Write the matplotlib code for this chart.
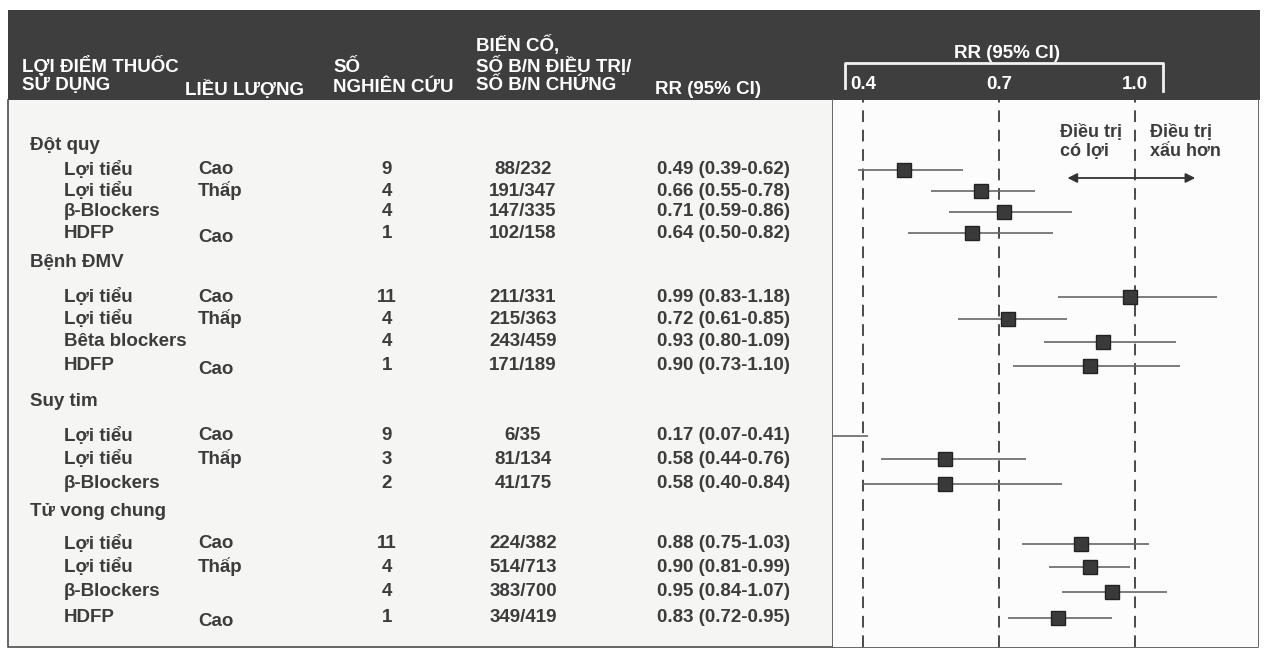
import matplotlib
matplotlib.use("Agg")
import matplotlib.pyplot as plt
from matplotlib.patches import Rectangle

plt.rcParams["font.family"] = ["Liberation Sans", "DejaVu Sans"]

# ---- data ----
groups = ["Đột quy", "Bệnh ĐMV", "Suy tim", "Tử vong chung"]
group_sizes = [4, 4, 3, 4]
drugs = ["Lợi tiểu", "Lợi tiểu", "β-Blockers", "HDFP",
         "Lợi tiểu", "Lợi tiểu", "Bêta blockers", "HDFP",
         "Lợi tiểu", "Lợi tiểu", "β-Blockers",
         "Lợi tiểu", "Lợi tiểu", "β-Blockers", "HDFP"]
doses = ["Cao", "Thấp", "", "Cao",
         "Cao", "Thấp", "", "Cao",
         "Cao", "Thấp", "",
         "Cao", "Thấp", "", "Cao"]
n_studies = [9, 4, 4, 1, 11, 4, 4, 1, 9, 3, 2, 11, 4, 4, 1]
events = ["88/232", "191/347", "147/335", "102/158",
          "211/331", "215/363", "243/459", "171/189",
          "6/35", "81/134", "41/175",
          "224/382", "514/713", "383/700", "349/419"]
rr = [0.49, 0.66, 0.71, 0.64, 0.99, 0.72, 0.93, 0.90,
      0.17, 0.58, 0.58, 0.88, 0.90, 0.95, 0.83]
ci_low = [0.39, 0.55, 0.59, 0.50, 0.83, 0.61, 0.80, 0.73,
          0.07, 0.44, 0.40, 0.75, 0.81, 0.84, 0.72]
ci_high = [0.62, 0.78, 0.86, 0.82, 1.18, 0.85, 1.09, 1.10,
           0.41, 0.76, 0.84, 1.03, 0.99, 1.07, 0.95]
ref_ticks = [0.4, 0.7, 1.0]

# ---- layout (pixels, y measured from the top) ----
W, H = 1264, 658
HEAD_TOP, HEAD_BOT, BODY_BOT = 10, 100, 647
LEFT, DIV, RIGHT = 8, 833, 1258
group_px = [145, 263, 402, 511]
row_px = [170, 191, 212, 233, 297, 319, 342, 366,
          436, 459, 484, 544, 567, 592, 618]
TXT = "#3c3c3c"
FS = 13.5
HFS = 13.5

fig = plt.figure(figsize=(W / 100, H / 100), dpi=100)
fig.patch.set_facecolor("white")

# table layer in pixel coordinates
tab = fig.add_axes([0, 0, 1, 1])
tab.set_xlim(0, W)
tab.set_ylim(H, 0)
tab.axis("off")

tab.add_patch(Rectangle((LEFT, HEAD_BOT), DIV - LEFT, BODY_BOT - HEAD_BOT,
                        facecolor="#f5f5f3", edgecolor="none"))
tab.add_patch(Rectangle((LEFT, HEAD_TOP), RIGHT - LEFT + 2, HEAD_BOT - HEAD_TOP,
                        facecolor="#3e3e3e", edgecolor="none"))
tab.plot([LEFT, LEFT, RIGHT, RIGHT], [HEAD_BOT, BODY_BOT, BODY_BOT, HEAD_BOT],
         color="#5a5a5a", lw=1.3)
tab.plot([DIV, DIV], [HEAD_BOT, BODY_BOT], color="#5a5a5a", lw=1.3)

# header texts
hd = dict(color="white", fontsize=HFS, fontweight="bold", va="center")
tab.text(22, 66, "LỢI ĐIỂM THUỐC", **hd)
tab.text(22, 84, "SỬ DỤNG", **hd)
tab.text(185, 89, "LIỀU LƯỢNG", **hd)
tab.text(333, 67, "SỐ", **hd)
tab.text(333, 87, "NGHIÊN CỨU", **hd)
tab.text(476, 45, "BIẾN CỐ,", **hd)
tab.text(476, 66, "SỐ B/N ĐIỀU TRỊ/", **hd)
tab.text(476, 86, "SỐ B/N CHỨNG", **hd)
tab.text(655, 90, "RR (95% CI)", **hd)
tab.plot([845, 845, 1163, 1163], [88, 63, 63, 91], color="#f2f2f2", lw=2)

# body texts
bd = dict(color=TXT, fontsize=FS, fontweight="bold", va="center")
for g, y in zip(groups, group_px):
    tab.text(30, y, g, **bd)
for i, y in enumerate(row_px):
    tab.text(64, y, drugs[i], **bd)
    tab.text(198, y + (4 if drugs[i] == "HDFP" else 0), doses[i], **bd)
    tab.text(387, y, str(n_studies[i]), ha="center", **bd)
    tab.text(523, y, events[i], ha="center", **bd)
    tab.text(657, y, f"{rr[i]:.2f} ({ci_low[i]:.2f}-{ci_high[i]:.2f})", **bd)

# forest panel
x0 = 0.4 - (863 - DIV) * 0.6 / 272
x1 = 1.0 + (RIGHT - 1135) * 0.6 / 272
ax = fig.add_axes([DIV / W, 1 - BODY_BOT / H, (RIGHT - DIV) / W,
                   (BODY_BOT - HEAD_BOT) / H])
ax.set_facecolor("#fcfcfc")
ax.set_xlim(x0, x1)
ax.set_ylim(BODY_BOT, HEAD_BOT)
for s in ax.spines.values():
    s.set_visible(False)
ax.set_yticks([])
ax.xaxis.tick_top()
ax.set_xticks(ref_ticks)
ax.set_xticklabels([f"{t:.1f}" for t in ref_ticks])
ax.tick_params(axis="x", length=0, pad=5, labelsize=HFS, labelcolor="white")
for lab in ax.get_xticklabels():
    lab.set_fontweight("bold")
ax.xaxis.set_label_position("top")
ax.set_xlabel("RR (95% CI)", color="white", fontsize=HFS, fontweight="bold")
ax.xaxis.set_label_coords(0.41, 1.077)

for t in ref_ticks:
    ax.axvline(t, color="#4a4a4a", lw=1.4, ls=(0, (6, 4)))
ax.hlines(row_px, ci_low, ci_high, color="#666666", lw=1.2)
ax.plot(rr, row_px, "s", ms=10, color="#3a3a3a", mec="#222222")

ax.text(0.835, 142, "Điều trị\ncó lợi", color=TXT, fontsize=FS - 0.5,
        fontweight="bold", va="center", ha="left", linespacing=1.2)
ax.text(1.033, 142, "Điều trị\nxấu hơn", color=TXT, fontsize=FS - 0.5,
        fontweight="bold", va="center", ha="left", linespacing=1.2)
ax.annotate("", xy=(0.845, 178), xytext=(1.139, 178),
            arrowprops=dict(arrowstyle="<|-|>", color="#333333", lw=1.3,
                            mutation_scale=14))

fig.savefig("out.png", dpi=100)
